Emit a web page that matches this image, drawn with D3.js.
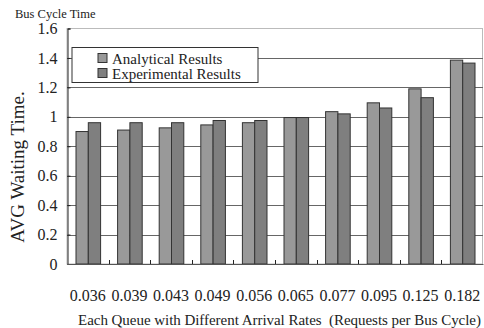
<!DOCTYPE html>
<html><head><meta charset="utf-8">
<script src="https://cdn.jsdelivr.net/npm/d3@7"></script>
<style>body{margin:0;background:#fff}svg{display:block}</style>
</head><body>
<script>
const categories = ["0.036","0.039","0.043","0.049","0.056","0.065","0.077","0.095","0.125","0.182"];
const analytical = [0.90, 0.91, 0.925, 0.945, 0.96, 0.995, 1.035, 1.095, 1.19, 1.385];
const experimental = [0.96, 0.96, 0.96, 0.975, 0.975, 0.995, 1.02, 1.06, 1.13, 1.365];
const seriesNames = ["Analytical Results", "Experimental Results"];
const yTicks = [0, 0.2, 0.4, 0.6, 0.8, 1, 1.2, 1.4, 1.6];

const W = 484, H = 328;
const m = {l: 67, r: 1, t: 28.5, b: 64};
const svg = d3.select("body").append("svg").attr("width", W).attr("height", H);
const font = "'Liberation Serif', 'Times New Roman', serif";

const x = d3.scaleBand().domain(categories).range([m.l, W - m.r]);
const xs = d3.scaleBand().domain(seriesNames).range([9, x.bandwidth() - 8]);
const y = d3.scaleLinear().domain([0, 1.6]).range([H - m.b, m.t]);
const colors = ["#999999", "#7f7f7f"];

// plot frame
svg.append("rect").attr("x", m.l).attr("y", m.t).attr("width", W - m.r - m.l - 0.5).attr("height", y(0) - m.t)
  .attr("fill", "none").attr("stroke", "#bbb").attr("stroke-width", 1);

// gridlines
svg.append("g").selectAll("line").data(yTicks.filter(d => d > 0 && d < 1.6)).join("line")
  .attr("x1", m.l).attr("x2", W - m.r).attr("y1", d => Math.round(y(d)) + 0.5).attr("y2", d => Math.round(y(d)) + 0.5)
  .attr("stroke", "#666").attr("stroke-width", 1);

// bars
const data = categories.map((c, i) => ({c, vals: [analytical[i], experimental[i]]}));
const g = svg.append("g").selectAll("g").data(data).join("g").attr("transform", d => `translate(${x(d.c)},0)`);
g.selectAll("rect").data(d => d.vals.map((v, j) => ({v, s: seriesNames[j], j}))).join("rect")
  .attr("x", d => xs(d.s)).attr("width", xs.bandwidth())
  .attr("y", d => y(d.v)).attr("height", d => y(0) - y(d.v))
  .attr("fill", d => colors[d.j]).attr("stroke", "#333").attr("stroke-width", 1);

// y axis
const yAxis = d3.axisLeft(y).tickValues(yTicks).tickSize(-3).tickPadding(10).tickFormat(d3.format("~g"));
const ya = svg.append("g").attr("transform", `translate(${m.l + 0.5},0)`).call(yAxis);
ya.select(".domain").attr("stroke", "#222");
ya.selectAll(".tick line").attr("stroke", "#222");
ya.selectAll("text").attr("font-family", font).attr("font-size", 16).attr("fill", "#222");

// x axis
const xAxis = d3.axisBottom(x).tickSize(0).tickPadding(26);
const xa = svg.append("g").attr("transform", `translate(0,${y(0)})`).call(xAxis);
xa.select(".domain").attr("stroke", "#555");
xa.selectAll("text").attr("font-family", font).attr("font-size", 16).attr("fill", "#222");
// boundary tick marks
svg.append("g").selectAll("line").data(categories.slice(1)).join("line")
  .attr("x1", d => Math.round(x(d)) + 0.5).attr("x2", d => Math.round(x(d)) + 0.5)
  .attr("y1", y(0)).attr("y2", y(0) - 4).attr("stroke", "#222");

// titles
svg.append("text").attr("x", 15).attr("y", 18).text("Bus Cycle Time")
  .attr("font-family", font).attr("font-size", 12.5).attr("fill", "#222");
svg.append("text").attr("transform", `translate(24,167) rotate(-90)`).attr("text-anchor", "middle")
  .text("AVG Waiting Time.").attr("font-family", font).attr("font-size", 19).attr("fill", "#222");
svg.append("text").attr("x", 78).attr("y", 325).text("Each Queue with Different Arrival Rates  (Requests per Bus Cycle)")
  .attr("font-family", font).attr("font-size", 15).attr("fill", "#222").style("white-space", "pre")
  .attr("textLength", 403).attr("lengthAdjust", "spacing");

// legend
const lg = svg.append("g");
lg.append("rect").attr("x", 72).attr("y", 47.5).attr("width", 186).attr("height", 35)
  .attr("fill", "#fff").attr("stroke", "#333");
seriesNames.forEach((s, i) => {
  const yy = 58.5 + i * 15;
  lg.append("rect").attr("x", 98).attr("y", yy - 5).attr("width", 9).attr("height", 9)
    .attr("fill", colors[i]).attr("stroke", "#333");
  lg.append("text").attr("x", 112).attr("y", yy + 5).text(s)
    .attr("font-family", font).attr("font-size", 15).attr("fill", "#222");
});
</script>
</body></html>
